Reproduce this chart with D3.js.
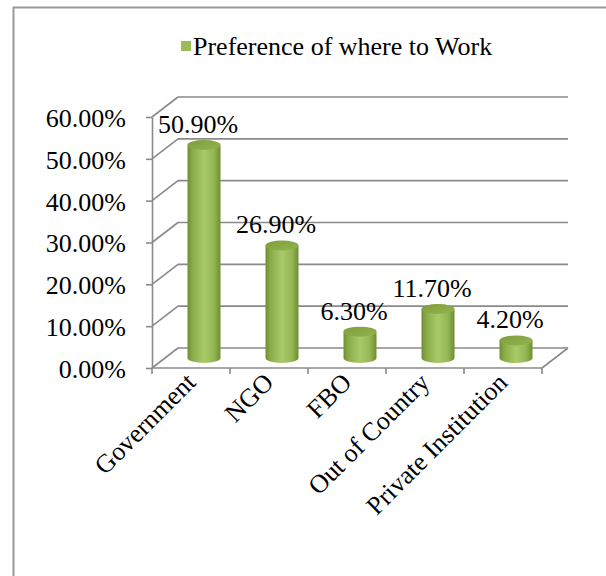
<!DOCTYPE html>
<html>
<head>
<meta charset="utf-8">
<script src="https://cdn.jsdelivr.net/npm/d3@7"></script>
<style>
  html, body { margin: 0; padding: 0; background: #fff; }
  svg { display: block; }
</style>
</head>
<body>
<svg id="chart" width="606" height="576"></svg>
<script>
// Survey: preferred place of work
const categories = ["Government", "NGO", "FBO", "Out of Country", "Private Institution"];
const values = [0.509, 0.269, 0.063, 0.117, 0.042];
const yTicks = [0, 0.1, 0.2, 0.3, 0.4, 0.5, 0.6];
const seriesName = "Preference of where to Work";

const svg = d3.select("#chart");
const W = 606, H = 576;
const serif = "'Liberation Serif', 'Times New Roman', serif";
const fontSize = 26;

// depth offset of the back wall (3-D look)
const depthX = 26, depthY = -20;
const gridColor = "#8a8a8a";

const x = d3.scaleBand().domain(categories).range([152, 542]).paddingInner(0).paddingOuter(0);
const y = d3.scaleLinear().domain([0, 0.6]).range([368, 117]);
const pct = d3.format(".2%");

// outer frame (runs off the right and bottom edge)
svg.append("rect")
  .attr("x", 13.5).attr("y", 7.5)
  .attr("width", W + 20).attr("height", H + 20)
  .attr("fill", "none").attr("stroke", "#9a9a9a").attr("stroke-width", 2);

// legend
const legend = svg.append("g").attr("transform", "translate(181,41)");
legend.append("rect").attr("width", 10).attr("height", 10).attr("fill", "#9bbb59");
legend.append("text").attr("x", 12).attr("y", 14)
  .style("font-family", serif).style("font-size", fontSize + "px").attr("fill", "#000")
  .text(seriesName);

// back-wall gridlines and side-wall diagonals
const grid = svg.append("g").attr("stroke", gridColor).attr("stroke-width", 1.6).attr("fill", "none");
grid.selectAll("line.back").data(yTicks).join("line")
  .attr("class", "back")
  .attr("x1", x.range()[0] + depthX).attr("x2", x.range()[1] + depthX)
  .attr("y1", d => y(d) + depthY).attr("y2", d => y(d) + depthY);
grid.selectAll("line.side").data(yTicks).join("line")
  .attr("class", "side")
  .attr("x1", x.range()[0]).attr("x2", x.range()[0] + depthX)
  .attr("y1", d => y(d)).attr("y2", d => y(d) + depthY);
// floor: front edge and right edge
grid.append("line")
  .attr("x1", x.range()[0]).attr("x2", x.range()[1])
  .attr("y1", y(0)).attr("y2", y(0));
grid.append("line")
  .attr("x1", x.range()[1]).attr("x2", x.range()[1] + depthX)
  .attr("y1", y(0)).attr("y2", y(0) + depthY);

// value axis
const yAxis = d3.axisLeft(y)
  .tickValues(yTicks)
  .tickFormat(pct)
  .tickSize(6)
  .tickSizeOuter(0)
  .tickPadding(20);
const gy = svg.append("g").attr("transform", `translate(${x.range()[0]},0)`).call(yAxis);
gy.attr("font-family", null).attr("font-size", null);
gy.select(".domain").attr("stroke", gridColor).attr("stroke-width", 1.6);
gy.selectAll(".tick line").attr("stroke", gridColor).attr("stroke-width", 1.6);
gy.selectAll(".tick text")
  .style("font-family", serif).style("font-size", fontSize + "px")
  .attr("fill", "#000").attr("dy", "0.36em");

// category ticks at band edges
const edges = categories.map(c => x(c)).concat([x.range()[1]]);
svg.append("g").selectAll("line").data(edges).join("line")
  .attr("x1", d => d).attr("x2", d => d)
  .attr("y1", y(0)).attr("y2", y(0) + 6)
  .attr("stroke", gridColor).attr("stroke-width", 1.6);

// category labels, rotated
svg.append("g").selectAll("text").data(categories).join("text")
  .attr("transform", d => `translate(${x(d) + x.bandwidth() / 2 + 6},${y(0) + 16}) rotate(-45)`)
  .attr("text-anchor", "end")
  .style("font-family", serif).style("font-size", fontSize + "px").attr("fill", "#000")
  .text(d => d);

// cylinder gradients
const defs = svg.append("defs");
const bodyGrad = defs.append("linearGradient").attr("id", "cylBody").attr("x1", "0").attr("x2", "1").attr("y1", "0").attr("y2", "0");
[["0%", "#6f8f30"], ["15%", "#8aac48"], ["50%", "#a9ca69"], ["80%", "#94b653"], ["100%", "#6e8e2f"]]
  .forEach(([o, c]) => bodyGrad.append("stop").attr("offset", o).attr("stop-color", c));
const capGrad = defs.append("linearGradient").attr("id", "cylTop").attr("x1", "0").attr("x2", "1").attr("y1", "0").attr("y2", "1");
[["0%", "#7d9d3b"], ["100%", "#93b450"]]
  .forEach(([o, c]) => capGrad.append("stop").attr("offset", o).attr("stop-color", c));

// cylinders sit halfway into the depth
const rx = 16.5, ry = 5;
const cx = c => x(c) + x.bandwidth() / 2 + depthX / 2;
const base = y(0) + depthY / 2;
const data = categories.map((c, i) => ({ c, v: values[i] }));

const bars = svg.append("g").selectAll("g").data(data).join("g");
bars.append("path")
  .attr("d", d => {
    const x0 = cx(d.c) - rx, x1 = cx(d.c) + rx, yt = y(d.v) + depthY / 2;
    return `M${x0},${yt} L${x0},${base} A${rx},${ry} 0 0 0 ${x1},${base} L${x1},${yt} Z`;
  })
  .attr("fill", "url(#cylBody)");
bars.append("ellipse")
  .attr("cx", d => cx(d.c)).attr("cy", d => y(d.v) + depthY / 2)
  .attr("rx", rx).attr("ry", ry)
  .attr("fill", "url(#cylTop)");

// value labels
svg.append("g").selectAll("text").data(data).join("text")
  .attr("x", d => cx(d.c) - 6)
  .attr("y", d => y(d.v) + depthY / 2 - 12)
  .attr("text-anchor", "middle")
  .style("font-family", serif).style("font-size", fontSize + "px").attr("fill", "#000")
  .text(d => pct(d.v));
</script>
</body>
</html>
